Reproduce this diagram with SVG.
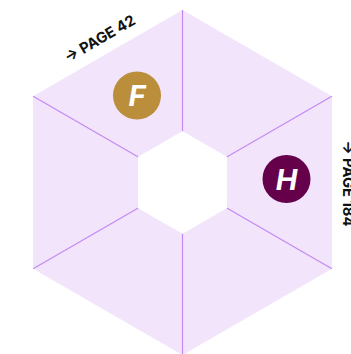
<svg xmlns="http://www.w3.org/2000/svg" width="351" height="354" viewBox="0 0 351 354">
<style>
.spoke{stroke:#c48af2;stroke-width:1.2;fill:none}
.lbl{font-family:Inter,"Liberation Sans",sans-serif;font-weight:700;font-size:14.8px;fill:#111}
.badge{font-family:Inter,"Liberation Sans",sans-serif;font-weight:700;font-style:italic;font-size:29px;fill:#fff}
</style>
<rect width="351" height="354" fill="#fff"/>
<g id="hexagon">
<polygon points="182.5,10 331.9,96.25 331.9,268.75 182.5,355 33.1,268.75 33.1,96.25" fill="#f1e4fb"/>
</g>
<g id="connectors">
<line class="spoke" x1="182.5" y1="10" x2="182.5" y2="131.5"/>
<line class="spoke" x1="331.9" y1="96.25" x2="226.7" y2="157"/>
<line class="spoke" x1="331.9" y1="268.75" x2="226.7" y2="208"/>
<line class="spoke" x1="182.5" y1="355" x2="182.5" y2="233.5"/>
<line class="spoke" x1="33.1" y1="268.75" x2="138.3" y2="208"/>
<line class="spoke" x1="33.1" y1="96.25" x2="138.3" y2="157"/>
</g>
<g id="center">
<polygon points="182.5,132.5 225.8,157.5 225.8,207.5 182.5,232.5 139.2,207.5 139.2,157.5" fill="#fff" stroke="#fff" stroke-width="2.5" stroke-linejoin="round"/>
</g>
<g id="node-F">
<circle cx="137" cy="95.5" r="24" fill="#bb8e3b"/>
<text class="badge" x="137" y="106" text-anchor="middle">F</text>
</g>
<g id="node-H">
<circle cx="286.5" cy="179" r="24" fill="#65004a"/>
<text class="badge" x="286.5" y="189.5" text-anchor="middle">H</text>
</g>
<g id="label-42">
<text class="lbl" transform="translate(99.6,38.5) rotate(-30)" x="0" y="5.3" text-anchor="middle">→ PAGE 42</text>
</g>
<g id="label-184">
<text class="lbl" transform="translate(348.5,183.5) rotate(90)" x="0" y="5.3" text-anchor="middle">→ PAGE 184</text>
</g>
</svg>
